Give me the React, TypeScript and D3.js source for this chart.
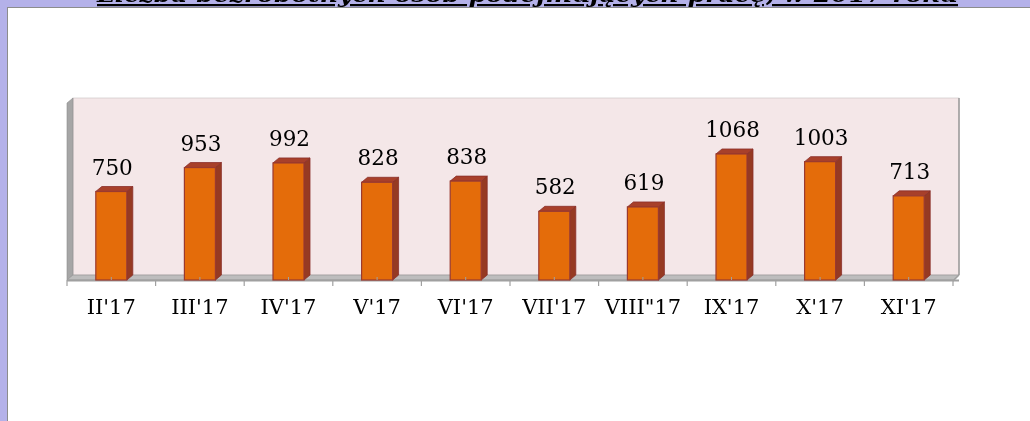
import { scaleBand, scaleLinear } from 'd3';

const months = ["II'17", "III'17", "IV'17", "V'17", "VI'17", "VII'17", 'VIII"17', "IX'17", "X'17", "XI'17"];
const values = [750, 953, 992, 828, 838, 582, 619, 1068, 1003, 713];
const title = 'Liczba bezrobotnych osób podejmujących pracę, w 2017 roku';

const W = 1030;
const H = 421;
const dx = 6;
const dy = 5;
const font = '"DejaVu Serif", serif';

export default function App() {
  const x = scaleBand<string>().domain(months).range([67, 953]).paddingInner(0.65).paddingOuter(0.325);
  const y = scaleLinear().domain([0, 1500]).range([280, 103]);
  const step = x.step();
  const y0 = y(0);
  const top = y(1500);

  return (
    <svg width={W} height={H} style={{ position: 'fixed', left: 0, top: 0, display: 'block' }}>
      <rect x={0} y={0} width={W} height={H} fill="#b4b1e9" />
      <rect x={7} y={7} width={W} height={H} fill="#8c8c8c" />
      <rect x={8} y={8} width={W} height={H} fill="#ffffff" />
      <text x={97} y={2} fontFamily={font} fontWeight="bold" fontStyle="italic" fontSize={22}
        textDecoration="underline" textLength={861} lengthAdjust="spacingAndGlyphs" fill="#000">{title}</text>

      {/* back wall, side wall, floor */}
      <rect x={67 + dx} y={top - dy} width={886} height={y0 - top} fill="#f4e7e8" stroke="#c8c0c0" strokeWidth={0.6} />
      <polygon points={`67,${top} ${67 + dx},${top - dy} ${67 + dx},${y0 - dy} 67,${y0}`} fill="#a6a6a6" stroke="#8f8f8f" strokeWidth={0.6} />
      <polygon points={`67,${y0} ${67 + dx},${y0 - dy} ${953 + dx},${y0 - dy} 953,${y0}`} fill="#bdbdbd" stroke="#909090" strokeWidth={0.6} />
      <line x1={953 + dx} x2={953 + dx} y1={top - dy} y2={y0 - dy} stroke="#9a9a9a" strokeWidth={1.5} />
      <line x1={67} x2={953 + dx} y1={y0 + 0.5} y2={y0 + 0.5} stroke="#a0a0a0" strokeWidth={2} />
      <line x1={953} x2={953 + dx} y1={y0 + 1} y2={y0 - dy} stroke="#a0a0a0" strokeWidth={1.5} />
      {months.map((m, i) => (
        <line key={'t' + m} x1={67 + step * i} x2={67 + step * i} y1={y0} y2={y0 + 6} stroke="#a0a0a0" strokeWidth={1.2} />
      ))}
      <line x1={953} x2={953} y1={y0} y2={y0 + 6} stroke="#a0a0a0" strokeWidth={1.2} />

      {months.map((m, i) => {
        const x0 = x(m) as number;
        const x1 = x0 + x.bandwidth();
        const t = y(values[i]);
        const c = x0 + x.bandwidth() / 2;
        return (
          <g key={m}>
            <polygon points={`${x1},${t} ${x1 + dx},${t - dy} ${x1 + dx},${y0 - dy} ${x1},${y0}`} fill="#963a22" stroke="#8a2f2a" strokeWidth={0.8} />
            <polygon points={`${x0},${t} ${x0 + dx},${t - dy} ${x1 + dx},${t - dy} ${x1},${t}`} fill="#a8402a" stroke="#8a2f2a" strokeWidth={0.8} />
            <rect x={x0} y={t} width={x1 - x0} height={y0 - t} fill="#e46c0a" stroke="#9a3a30" strokeWidth={1.2} />
            <line x1={c} x2={c} y1={y0 - 3} y2={y0} stroke="#a0a0a0" strokeWidth={1} />
            <text x={c + 1} y={t - 17} textAnchor="middle" fontFamily={font} fontSize={21.5} fill="#000">{values[i]}</text>
            <text x={c} y={314} textAnchor="middle" fontFamily={font} fontSize={21} fill="#000">{m}</text>
          </g>
        );
      })}
    </svg>
  );
}
